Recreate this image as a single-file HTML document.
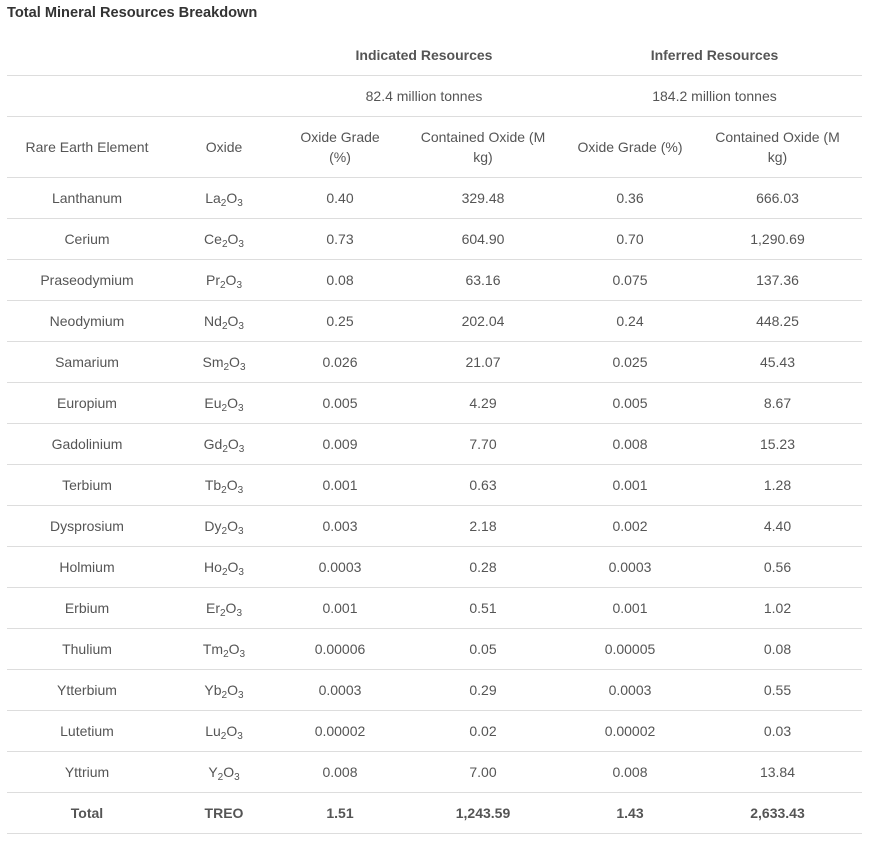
<!DOCTYPE html>
<html><head><meta charset="utf-8"><style>
body{margin:0;background:#fff;width:875px;height:856px;position:relative;font-family:"Liberation Sans",sans-serif;color:#555;font-size:14px}
.t{position:absolute;left:7px;top:5px;font-weight:bold;color:#333;font-size:14.6px}
.r{position:absolute;left:7px;width:855px;height:41px;border-bottom:1px solid #ddd;box-sizing:border-box;display:flex;align-items:center;padding-top:0px}
.r>div{text-align:center;line-height:20px}
.c1{width:160px}.c2{width:114px}.c3{width:118px}.c4{width:168px}.c5{width:126px}.c6{width:169px}
.b{font-weight:bold}
sub{font-size:10px;vertical-align:-3px;line-height:0}
</style></head><body>
<div class="t">Total Mineral Resources Breakdown</div>
<div class="r b" style="top:35px"><div style="width:274px"></div><div style="width:286px">Indicated Resources</div><div style="width:295px">Inferred Resources</div></div>
<div class="r" style="top:76px"><div style="width:274px"></div><div style="width:286px">82.4 million tonnes</div><div style="width:295px">184.2 million tonnes</div></div>
<div class="r" style="top:117px;height:61px"><div class="c1">Rare Earth Element</div><div class="c2">Oxide</div><div class="c3">Oxide Grade<br>(%)</div><div class="c4">Contained Oxide (M<br>kg)</div><div class="c5">Oxide Grade (%)</div><div class="c6">Contained Oxide (M<br>kg)</div></div>
<div class="r" style="top:178px"><div class="c1">Lanthanum</div><div class="c2">La<sub>2</sub>O<sub>3</sub></div><div class="c3">0.40</div><div class="c4">329.48</div><div class="c5">0.36</div><div class="c6">666.03</div></div>
<div class="r" style="top:219px"><div class="c1">Cerium</div><div class="c2">Ce<sub>2</sub>O<sub>3</sub></div><div class="c3">0.73</div><div class="c4">604.90</div><div class="c5">0.70</div><div class="c6">1,290.69</div></div>
<div class="r" style="top:260px"><div class="c1">Praseodymium</div><div class="c2">Pr<sub>2</sub>O<sub>3</sub></div><div class="c3">0.08</div><div class="c4">63.16</div><div class="c5">0.075</div><div class="c6">137.36</div></div>
<div class="r" style="top:301px"><div class="c1">Neodymium</div><div class="c2">Nd<sub>2</sub>O<sub>3</sub></div><div class="c3">0.25</div><div class="c4">202.04</div><div class="c5">0.24</div><div class="c6">448.25</div></div>
<div class="r" style="top:342px"><div class="c1">Samarium</div><div class="c2">Sm<sub>2</sub>O<sub>3</sub></div><div class="c3">0.026</div><div class="c4">21.07</div><div class="c5">0.025</div><div class="c6">45.43</div></div>
<div class="r" style="top:383px"><div class="c1">Europium</div><div class="c2">Eu<sub>2</sub>O<sub>3</sub></div><div class="c3">0.005</div><div class="c4">4.29</div><div class="c5">0.005</div><div class="c6">8.67</div></div>
<div class="r" style="top:424px"><div class="c1">Gadolinium</div><div class="c2">Gd<sub>2</sub>O<sub>3</sub></div><div class="c3">0.009</div><div class="c4">7.70</div><div class="c5">0.008</div><div class="c6">15.23</div></div>
<div class="r" style="top:465px"><div class="c1">Terbium</div><div class="c2">Tb<sub>2</sub>O<sub>3</sub></div><div class="c3">0.001</div><div class="c4">0.63</div><div class="c5">0.001</div><div class="c6">1.28</div></div>
<div class="r" style="top:506px"><div class="c1">Dysprosium</div><div class="c2">Dy<sub>2</sub>O<sub>3</sub></div><div class="c3">0.003</div><div class="c4">2.18</div><div class="c5">0.002</div><div class="c6">4.40</div></div>
<div class="r" style="top:547px"><div class="c1">Holmium</div><div class="c2">Ho<sub>2</sub>O<sub>3</sub></div><div class="c3">0.0003</div><div class="c4">0.28</div><div class="c5">0.0003</div><div class="c6">0.56</div></div>
<div class="r" style="top:588px"><div class="c1">Erbium</div><div class="c2">Er<sub>2</sub>O<sub>3</sub></div><div class="c3">0.001</div><div class="c4">0.51</div><div class="c5">0.001</div><div class="c6">1.02</div></div>
<div class="r" style="top:629px"><div class="c1">Thulium</div><div class="c2">Tm<sub>2</sub>O<sub>3</sub></div><div class="c3">0.00006</div><div class="c4">0.05</div><div class="c5">0.00005</div><div class="c6">0.08</div></div>
<div class="r" style="top:670px"><div class="c1">Ytterbium</div><div class="c2">Yb<sub>2</sub>O<sub>3</sub></div><div class="c3">0.0003</div><div class="c4">0.29</div><div class="c5">0.0003</div><div class="c6">0.55</div></div>
<div class="r" style="top:711px"><div class="c1">Lutetium</div><div class="c2">Lu<sub>2</sub>O<sub>3</sub></div><div class="c3">0.00002</div><div class="c4">0.02</div><div class="c5">0.00002</div><div class="c6">0.03</div></div>
<div class="r" style="top:752px"><div class="c1">Yttrium</div><div class="c2">Y<sub>2</sub>O<sub>3</sub></div><div class="c3">0.008</div><div class="c4">7.00</div><div class="c5">0.008</div><div class="c6">13.84</div></div>
<div class="r b" style="top:793px"><div class="c1">Total</div><div class="c2">TREO</div><div class="c3">1.51</div><div class="c4">1,243.59</div><div class="c5">1.43</div><div class="c6">2,633.43</div></div>
</body></html>
